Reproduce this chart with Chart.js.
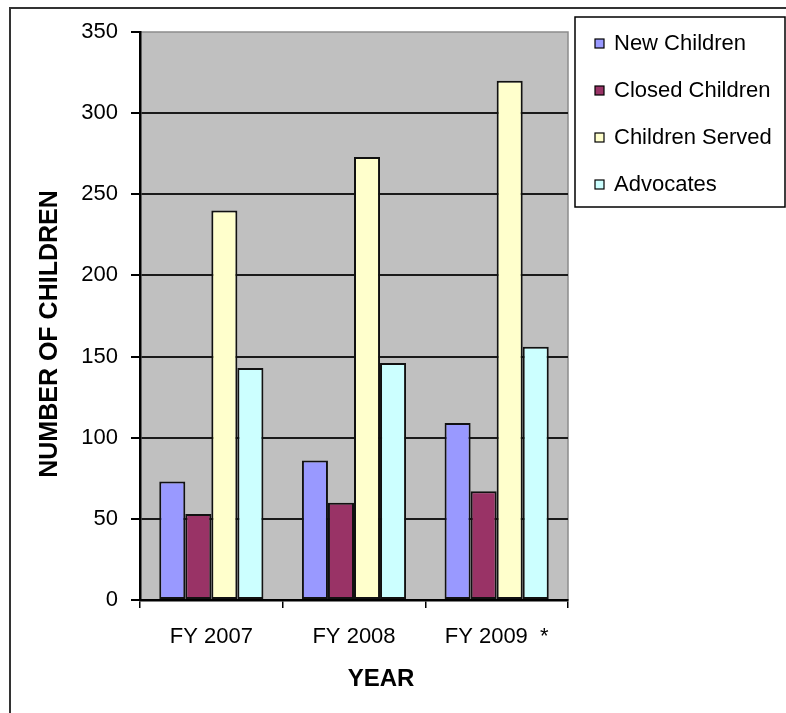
<!DOCTYPE html>
<html>
<head>
<meta charset="utf-8">
<script src="https://cdn.jsdelivr.net/npm/chart.js@4.4.1/dist/chart.umd.min.js"></script>
<style>
  html, body { margin: 0; padding: 0; background: #fff; }
  #wrap { width: 786px; height: 713px; position: relative; }
</style>
</head>
<body>
<div id="wrap"><canvas id="grafico"></canvas></div>
<script>
const years = ["FY 2007", "FY 2008", "FY 2009  *"];
const newChildren = [73, 86, 109];
const closedChildren = [53, 60, 67];
const childrenServed = [240, 273, 320];
const advocates = [143, 146, 156];
const yTicks = [0, 50, 100, 150, 200, 250, 300, 350];

const FONT = "'Liberation Sans', Arial, sans-serif";

// plot background, outer frame, axis titles and boxed legend
const decor = {
  id: "decor",
  beforeDraw(chart) {
    const ctx = chart.ctx;
    const a = chart.chartArea;
    ctx.save();
    ctx.fillStyle = "#fff";
    ctx.fillRect(0, 0, chart.width, chart.height);
    ctx.strokeStyle = "#333";
    ctx.lineWidth = 2;
    ctx.strokeRect(10, 8, chart.width + 20, chart.height + 20);
    ctx.fillStyle = "#c0c0c0";
    ctx.fillRect(a.left, a.top, a.right - a.left, a.bottom - a.top);
    ctx.strokeStyle = "#8c8c8c";
    ctx.lineWidth = 1.5;
    ctx.strokeRect(a.left, a.top, a.right - a.left, a.bottom - a.top);
    ctx.restore();
  },
  afterDraw(chart) {
    const ctx = chart.ctx;
    ctx.save();
    ctx.fillStyle = "#000";
    ctx.textAlign = "center";
    ctx.textBaseline = "middle";
    ctx.font = "bold 24px " + FONT;
    ctx.fillText("YEAR", 381, 679);
    ctx.font = "bold 25px " + FONT;
    ctx.translate(50, 334);
    ctx.rotate(-Math.PI / 2);
    ctx.fillText("NUMBER OF CHILDREN", 0, 0);
    ctx.restore();

    ctx.save();
    ctx.strokeStyle = "#000";
    ctx.lineWidth = 1.5;
    ctx.fillStyle = "#fff";
    ctx.fillRect(575, 17, 210, 190);
    ctx.strokeRect(575, 17, 210, 190);
    ctx.font = "22px " + FONT;
    ctx.textAlign = "left";
    ctx.textBaseline = "middle";
    chart.data.datasets.forEach((ds, i) => {
      const y = 43 + i * 47;
      ctx.fillStyle = ds.backgroundColor;
      ctx.fillRect(595, y - 4, 9, 9);
      ctx.lineWidth = 1.2;
      ctx.strokeStyle = "#000";
      ctx.strokeRect(595, y - 4, 9, 9);
      ctx.fillStyle = "#000";
      ctx.fillText(ds.label, 614, y + 1);
    });
    ctx.restore();
  }
};

new Chart(document.getElementById("grafico"), {
  type: "bar",
  data: {
    labels: years,
    datasets: [
      { label: "New Children", data: newChildren, backgroundColor: "#9999ff" },
      { label: "Closed Children", data: closedChildren, backgroundColor: "#993366" },
      { label: "Children Served", data: childrenServed, backgroundColor: "#ffffcc" },
      { label: "Advocates", data: advocates, backgroundColor: "#ccffff" }
    ].map(d => Object.assign(d, {
      borderColor: "#111",
      borderWidth: 2,
      borderSkipped: false,
      categoryPercentage: 0.73,
      barPercentage: 1.0
    }))
  },
  options: {
    responsive: true,
    maintainAspectRatio: false,
    animation: false,
    layout: { padding: { top: 32, right: 218, bottom: 0, left: 0 } },
    plugins: {
      legend: { display: false },
      tooltip: { enabled: false }
    },
    scales: {
      x: {
        offset: true,
        afterFit(scale) { scale.height = 113; },
        grid: {
          offset: true,
          drawOnChartArea: false,
          tickLength: 8,
          color: "#000",
          lineWidth: 1.5
        },
        border: { color: "#000", width: 2.5 },
        ticks: {
          color: "#000",
          padding: 16,
          font: { family: FONT, size: 22 }
        }
      },
      y: {
        min: 0,
        max: 350,
        afterFit(scale) { scale.width = 140; },
        afterBuildTicks(scale) { scale.ticks = yTicks.map(v => ({ value: v })); },
        grid: {
          tickLength: 9,
          tickColor: "#000",
          lineWidth: 2,
          color: c => (c.tick && c.tick.value === 350) ? "rgba(0,0,0,0)" : "#1a1a1a"
        },
        border: { color: "#000", width: 2.5 },
        ticks: {
          color: "#000",
          padding: 13,
          font: { family: FONT, size: 22 }
        }
      }
    }
  },
  plugins: [decor]
});
</script>
</body>
</html>
